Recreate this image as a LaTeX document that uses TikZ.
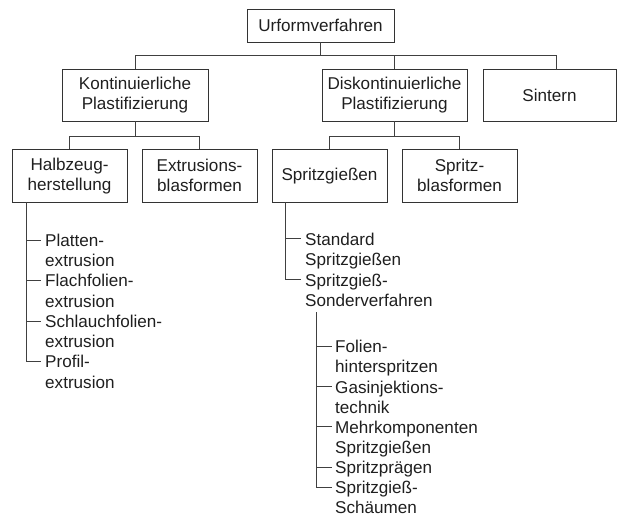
\documentclass[tikz,border=0pt]{standalone}
\usepackage{fontspec}
\setmainfont{Liberation Sans}
\begin{document}
\begin{tikzpicture}[x=1pt,y=-1pt,
  every node/.style={font=\fontsize{17.1pt}{20.2pt}\selectfont, text=black!88},
  box/.style={draw=black!80, line width=0.9pt, inner sep=0pt, align=center},
  item/.style={inner sep=0pt, anchor=base west},
  link/.style={draw=black!75, line width=0.9pt}]
\useasboundingbox (0,0) rectangle (617,517);

% --- boxes -------------------------------------------------------------
\node[box, minimum width=147pt, minimum height=33pt] (U) at (320.5,25.5) {Urformverfahren};

\node[box, minimum width=146pt, minimum height=51.5pt] (K) at (135,95.25) {Kontinuierliche\\Plastifizierung};
\node[box, minimum width=145pt, minimum height=51.5pt] (D) at (394.5,95.25) {Diskontinuierliche\\Plastifizierung};
\node[box, minimum width=133pt, minimum height=51.5pt] (S) at (549.5,95.25) {Sintern};

\node[box, minimum width=115pt, minimum height=52.5pt] (H)  at (69.5,175.75)  {Halbzeug-\\herstellung};
\node[box, minimum width=115pt, minimum height=52.5pt] (E)  at (199.5,175.75) {Extrusions-\\blasformen};
\node[box, minimum width=115pt, minimum height=52.5pt] (SG) at (329.5,175.75) {Spritzgießen};
\node[box, minimum width=115pt, minimum height=52.5pt] (SB) at (459.5,175.75) {Spritz-\\blasformen};

% --- tree connectors between boxes -------------------------------------
\coordinate (bus1) at (0,55.5);
\coordinate (bus2) at (0,136);
\coordinate (sdrop) at (556,69.5);   % Sintern hangs from an off-centre point
\draw[link] (U.south) -- (U.south |- bus1);
\draw[link] (K.north) -- (K.north |- bus1) -- (sdrop |- bus1) -- (sdrop);
\draw[link] (D.north) -- (D.north |- bus1);
\draw[link] (K.south) -- (K.south |- bus2);
\draw[link] (H.north) -- (H.north |- bus2) -- (E.north |- bus2) -- (E.north);
\draw[link] (D.south) -- (D.south |- bus2);
\draw[link] (SG.north) -- (SG.north |- bus2) -- (SB.north |- bus2) -- (SB.north);

% --- Halbzeugherstellung list ------------------------------------------
\node[item] (h1)  at (45,246.3)  {Platten-};
\node[item] (h1x) at (45,266.55) {extrusion};
\node[item] (h2)  at (45,286.8)  {Flachfolien-};
\node[item] (h2x) at (45,307.05) {extrusion};
\node[item] (h3)  at (45,327.3)  {Schlauchfolien-};
\node[item] (h3x) at (45,347.55) {extrusion};
\node[item] (h4)  at (45,367.8)  {Profil-};
\node[item] (h4x) at (45,388.05) {extrusion};
\coordinate (ht) at (26,0);
\foreach \i in {1,...,4}
  \coordinate (hb\i) at ([xshift=-4pt,yshift=6.3pt]h\i.base west);
\draw[link] (H.south -| ht) |- (hb4);
\foreach \i in {1,2,3}
  \draw[link] (ht |- hb\i) -- (hb\i);

% --- Spritzgießen list -------------------------------------------------
\node[item] (g1)  at (305,245)   {Standard};
\node[item] (g1x) at (305,265.5) {Spritzgießen};
\node[item] (g2)  at (305,286)   {Spritzgieß-};
\node[item] (g2x) at (305,306.5) {Sonderverfahren};
\coordinate (gt) at (285,0);
\foreach \i in {1,2}
  \coordinate (gb\i) at ([xshift=-4pt,yshift=6.3pt]g\i.base west);
\draw[link] (SG.south -| gt) |- (gb2);
\draw[link] (gt |- gb1) -- (gb1);

% --- Sonderverfahren list ----------------------------------------------
\node[item] (s1)  at (335,352.8)  {Folien-};
\node[item] (s1x) at (335,372.9)  {hinterspritzen};
\node[item] (s2)  at (335,393.0)  {Gasinjektions-};
\node[item] (s2x) at (335,413.1)  {technik};
\node[item] (s3)  at (335,433.2)  {Mehrkomponenten};
\node[item] (s3x) at (335,453.3)  {Spritzgießen};
\node[item] (s4)  at (335,473.4)  {Spritzprägen};
\node[item] (s5)  at (335,493.5)  {Spritzgieß-};
\node[item] (s5x) at (335,513.6)  {Schäumen};
\coordinate (st) at (316,312);
\foreach \i in {1,...,5}
  \coordinate (sb\i) at ([xshift=-3pt,yshift=6.3pt]s\i.base west);
\draw[link] (st) |- (sb5);
\foreach \i in {1,...,4}
  \draw[link] (st |- sb\i) -- (sb\i);
\end{tikzpicture}
\end{document}
